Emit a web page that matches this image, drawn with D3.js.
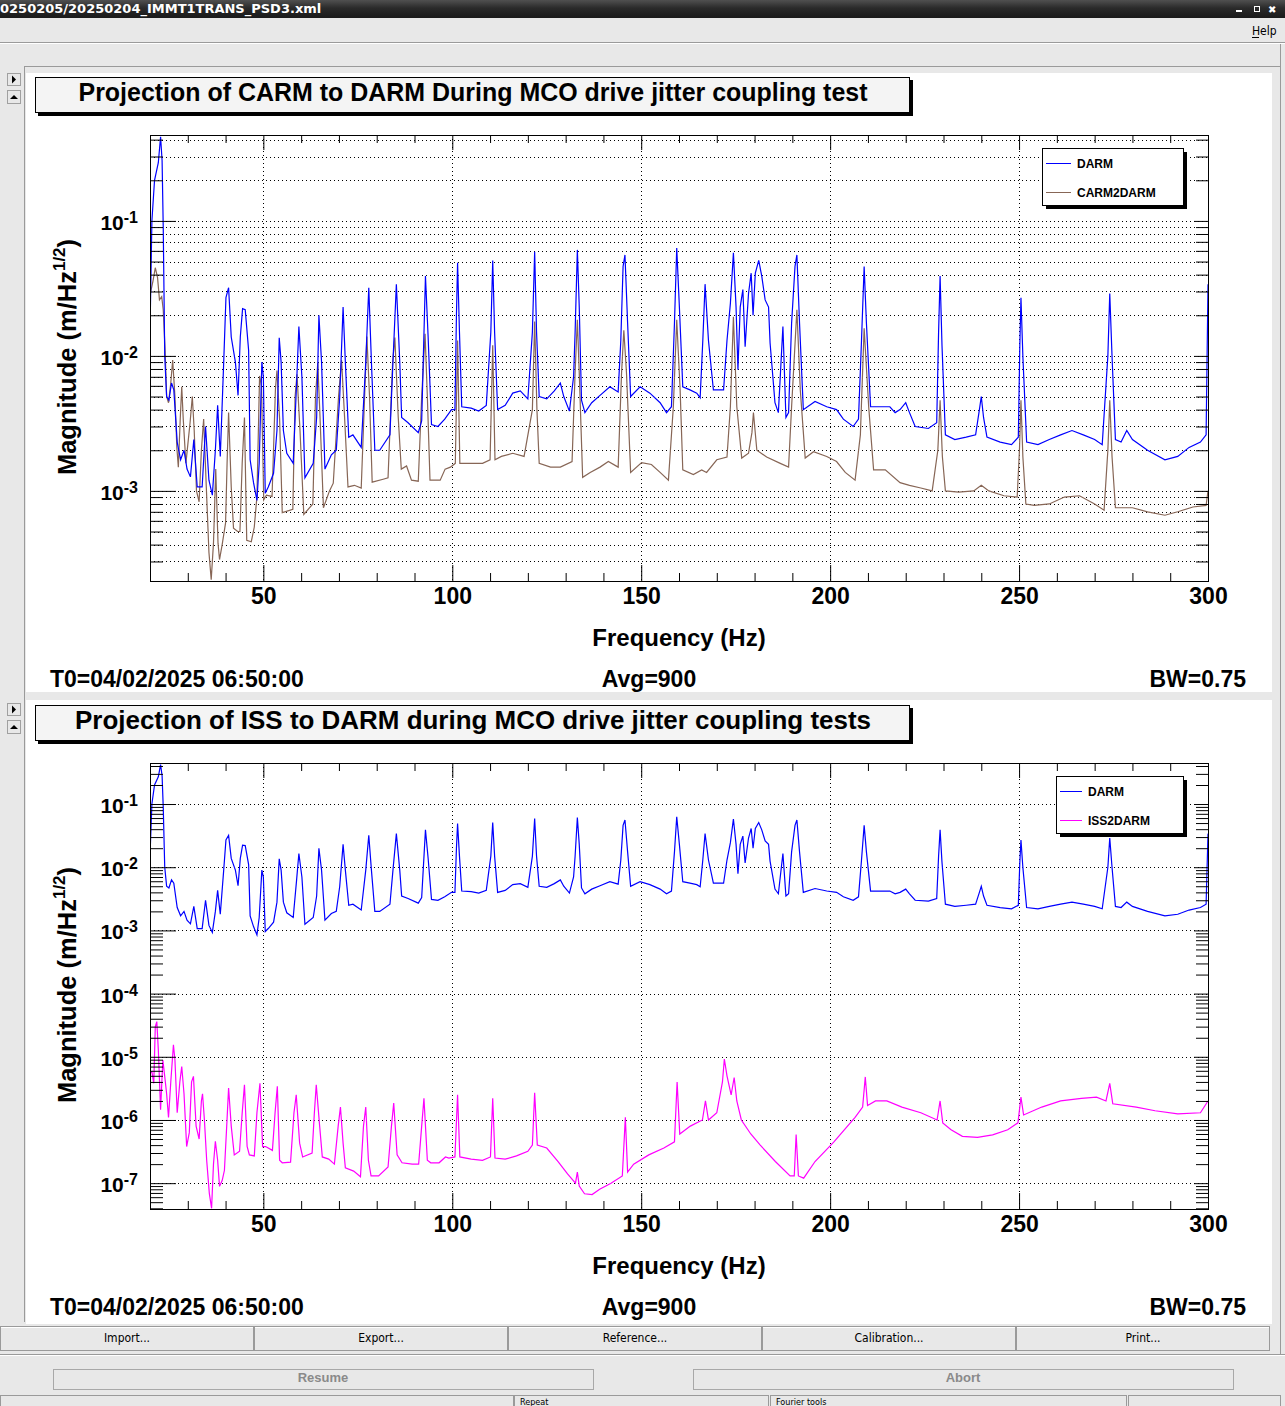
<!DOCTYPE html>
<html><head><meta charset="utf-8">
<script src="https://cdn.jsdelivr.net/npm/d3@7"></script>
<style>
body{margin:0;background:#e8e8e8;overflow:hidden}
svg{display:block}
</style></head><body>
<svg id="win" width="1285" height="1406"></svg>
<script>
// ---- data (frequency Hz, magnitude m/Hz^1/2) ----
const DARM = [[20.1,0.022],[20.5,0.1],[21.2,0.2],[22.2,0.27],[22.8,0.42],[23.2,0.28],[23.5,0.091],[23.9,0.01],[24.4,0.005],[25,0.0047],[25.7,0.0063],[26.3,0.0056],[27.2,0.0023],[28.1,0.0017],[29,0.002],[29.8,0.00145],[30.7,0.00127],[31.6,0.0024],[32.5,0.00107],[33.8,0.00107],[34.7,0.003],[35.6,0.0012],[36.5,0.00093],[37.3,0.002],[37.9,0.0043],[38.6,0.0018],[39.5,0.0089],[40.1,0.027],[40.8,0.032],[41.5,0.0138],[42.6,0.009],[43.3,0.0051],[43.9,0.0138],[44.5,0.0224],[45.2,0.022],[46.1,0.011],[46.5,0.0017],[47.4,0.00115],[48.3,0.00085],[48.9,0.0016],[49.6,0.009],[50,0.007],[50.5,0.00096],[51.3,0.00107],[52.7,0.00135],[53.6,0.0028],[54.2,0.0136],[54.7,0.009],[55.3,0.0028],[56.2,0.0019],[57.9,0.0016],[58.8,0.0063],[59.4,0.0165],[60.2,0.007],[61,0.00125],[63.2,0.0016],[64.1,0.0035],[64.7,0.02],[65.4,0.009],[66.3,0.00145],[68,0.00185],[69.3,0.002],[70.2,0.0049],[71.1,0.023],[71.7,0.009],[72.6,0.0025],[73.7,0.0026],[75.9,0.0021],[77.1,0.009],[77.9,0.032],[78.6,0.009],[79.5,0.002],[80.8,0.002],[83.5,0.0026],[84.3,0.009],[85.2,0.034],[86.1,0.009],[86.6,0.0035],[88.3,0.0032],[91,0.0027],[91.9,0.0033],[92.9,0.039],[93.6,0.014],[94.5,0.0031],[96.2,0.003],[98,0.0034],[99.8,0.004],
  [100.7,0.004],[101.1,0.02],[101.4,0.049],[101.9,0.015],[102.5,0.0042],[105,0.0041],[107,0.0039],[109,0.0043],[110.2,0.015],[110.7,0.051],[111.2,0.015],[112,0.004],[114,0.0043],[116,0.0053],[118,0.0055],[120,0.0048],[121.2,0.015],[121.8,0.059],[122.3,0.015],[123,0.005],[125,0.0048],[127,0.0055],
  [128.6,0.0063],[129.5,0.005],[131,0.0039],[132.1,0.007],[132.5,0.0148],[133.1,0.061],[133.6,0.023],[134.2,0.0047],[135.1,0.0038],[136.9,0.0045],[139.1,0.0051],[141.7,0.0059],[143.9,0.0054],[144.6,0.013],[145.2,0.046],[145.7,0.056],[146.4,0.0175],[147.2,0.005],[149.7,0.0059],[152.3,0.0053],[155,0.0045],[156.7,0.0038],[158,0.0042],[158.8,0.0175],[159.4,0.063],[160.1,0.023],[161,0.0059],[162.9,0.0056],[164.7,0.0053],[165.6,0.0049],[166.3,0.013],[166.9,0.034],[167.8,0.013],[169.1,0.0056],[171.8,0.0056],[172.7,0.013],[173.6,0.0245],[174.4,0.058],[175.1,0.023],[175.6,0.0079],[176.2,0.023],[176.9,0.031],[177.5,0.0117],[178.4,0.029],[179.1,0.041],[179.6,0.02],[180.2,0.041],[181.1,0.051],[181.9,0.039],[182.8,0.026],[183.7,0.023],[184.1,0.0125],[185.4,0.0045],[186.3,0.0038],[187.5,0.0165],[188.3,0.0035],[189,0.0038],[189.8,0.0175],[190.7,0.046],[191.2,0.056],[191.9,0.0175],[192.9,0.004],[196,0.0046],[199.1,0.0042],[201.7,0.004],[203.5,0.0034],[206.1,0.003],[207.5,0.0034],[208.3,0.013],[209,0.046],[209.6,0.0175],[210.7,0.0042],[213.2,0.0042],[215.8,0.0042],[217.2,0.0038],[218.5,0.004],
  [220,0.0045],[221,0.0038],[222.5,0.003],[226,0.0029],[228.2,0.0032],[228.7,0.015],[229.1,0.039],[229.6,0.012],[230.5,0.0026],[233,0.0024],[236,0.0025],[238.5,0.0026],[239.5,0.004],[240,0.005],[240.6,0.0035],[241.5,0.0025],[245,0.0023],[248,0.0022],[249.8,0.0025],[250.2,0.012],[250.5,0.027],[251,0.01],[252,0.0023],[255,0.0022],[258,0.0024],[261,0.0026],[264,0.0028],[267,0.0026],[270,0.0024],[272,0.0022],[273.5,0.01],[274,0.029],[274.6,0.01],[275.5,0.0024],[277,0.0023],[278.5,0.0028],[280,0.0024],[284,0.002],[288.6,0.0017],[292,0.0018],[295,0.0021],[298,0.0023],[299.5,0.0026],[300,0.034]];

const CARM2DARM = [[20.1,0.029],[20.8,0.036],[21.4,0.045],[22,0.038],[22.5,0.026],[23.1,0.0275],[23.5,0.022],[24,0.011],[24.4,0.005],[24.9,0.0045],[25.5,0.0063],[26,0.0093],[26.6,0.005],[27.1,0.0021],[27.5,0.0015],[28,0.0034],[28.4,0.0059],[28.8,0.0034],[29.5,0.0016],[30.6,0.0032],[31.2,0.005],[31.7,0.0028],[32.3,0.001],[33,0.00083],[33.6,0.002],[34.2,0.0034],[34.9,0.00107],[35.6,0.00035],[36.2,0.00022],[36.8,0.00041],[37.4,0.00145],[38,0.00041],[38.4,0.00031],[39.1,0.0004],[40,0.00058],[40.4,0.0016],[40.8,0.0038],[41.5,0.00107],[42.1,0.00053],[43.2,0.0005],[43.8,0.0005],[44.4,0.0016],[45,0.0035],[45.6,0.00043],[46.8,0.00042],[47.6,0.00054],[48.3,0.00091],[49,0.0071],[49.5,0.006],[50.1,0.00086],[50.8,0.00093],[52.3,0.00091],[53.2,0.0057],[53.6,0.0078],[54.3,0.0034],[55,0.00069],[57.8,0.00073],[58.4,0.005],[58.9,0.0073],[59.7,0.0028],[60.7,0.00067],[63.1,0.0008],[63.8,0.005],[64.4,0.0089],[65,0.0035],[65.9,0.00075],[67.5,0.001],[68.5,0.00114],[69.9,0.005],[70.7,0.0093],[71.5,0.0035],[72.4,0.00107],[74.1,0.0011],[75.9,0.00105],[76.8,0.005],[77.4,0.0139],[78.1,0.005],[78.8,0.00116],[81.7,0.00122],[83,0.00125],[84.2,0.0089],[84.8,0.0137],[85.7,0.0035],[86.5,0.00145],[87.9,0.00153],[89.2,0.0012],[91,0.00118],[91.9,0.005],[92.8,0.0146],[93.4,0.005],[94.1,0.0012],[96.8,0.0012],[98.1,0.00145],[99.5,0.0015],
  [100.8,0.0016],[101.4,0.013],[102,0.0016],[105,0.0016],[108,0.0016],[110,0.0017],[110.7,0.012],[111.3,0.0017],[113,0.0018],[116,0.0019],[119,0.0018],[121.2,0.004],[121.8,0.018],[122.4,0.004],[123,0.0016],[126,0.0015],
  [128.6,0.0015],[131.7,0.00165],[132.5,0.0075],[133.1,0.0185],[133.6,0.0075],[134.5,0.00126],[136.5,0.00137],[139.1,0.0015],[141.3,0.00165],[143.9,0.0015],[144.8,0.0075],[145.4,0.0155],[146.1,0.0075],[147.2,0.00137],[150.1,0.00162],[152.7,0.00157],[155,0.00137],[157.2,0.0012],[158.5,0.0042],[159.4,0.0185],[160.3,0.0056],[161,0.00143],[163.8,0.00132],[166,0.00143],[167.3,0.00137],[170,0.0017],[172.7,0.00178],[173.6,0.0042],[174.4,0.0195],[175.3,0.0042],[176.6,0.00175],[178.4,0.0019],[179.3,0.0027],[179.7,0.0038],[180.6,0.002],[183.2,0.00178],[186.8,0.0016],[189,0.0015],[189.8,0.0042],[191.2,0.022],[192.1,0.0056],[193.4,0.00175],[195.6,0.00195],[199.1,0.0018],[201.7,0.00165],[204,0.00137],[206.6,0.0012],[208,0.0026],[209,0.016],[210.2,0.0042],[211.5,0.00143],[214.6,0.00143],[218.5,0.00115],
  [221,0.0011],[224,0.00105],[227,0.001],[228.5,0.002],[229.1,0.0047],[229.7,0.0018],[230.5,0.001],[234,0.00098],[238,0.001],[240,0.0011],[242,0.001],[246,0.00092],[249.5,0.0009],[250.1,0.002],[250.5,0.0047],[251,0.0018],[251.8,0.0008],[254,0.00078],[258,0.0008],[262,0.0009],[266,0.00092],[270,0.0008],[272.5,0.00072],[273.5,0.002],[274,0.0047],[274.6,0.0018],[275.5,0.00075],[280,0.00075],[284,0.0007],[288.6,0.00066],[292,0.0007],[296,0.00076],[299.5,0.00078],[300,0.001]];

const ISS2DARM = [[20.1,5.5e-6],[20.5,5.8e-6],[21,3.8e-6],[21.4,3e-5],[21.8,3.6e-5],[22.2,1.3e-5],[22.8,1.45e-6],[23.4,8.9e-6],[23.8,5.5e-6],[24.4,2.6e-6],[24.9,1.1e-6],[25.5,4e-6],[26.2,1.55e-5],[26.6,8.9e-6],[27.2,1.3e-6],[27.9,4e-6],[28.4,7e-6],[29,2.6e-6],[29.7,3.8e-7],[30.4,6.3e-7],[31,4e-6],[31.5,4.9e-6],[32.2,8e-7],[33,5e-7],[33.6,2e-6],[33.9,2.6e-6],[34.4,1e-6],[35,2.3e-7],[35.7,6.9e-8],[36.3,4e-8],[36.8,2e-7],[37.3,4.6e-7],[37.9,2.3e-7],[38.4,8.9e-8],[39.1,1.1e-7],[39.7,1.6e-7],[40.3,8e-7],[40.8,3.2e-6],[41.5,8e-7],[42.3,2.8e-7],[43.7,3.2e-7],[44.4,1.3e-6],[45,3.6e-6],[45.7,3.8e-7],[46.3,2.8e-7],[47.6,2.7e-7],[48.3,1.3e-6],[49.1,3.8e-6],[49.8,3.8e-7],[50.6,3.8e-7],[52.4,3.3e-7],[53.1,1.3e-6],[53.7,3.4e-6],[54.3,2.3e-7],[55,2.1e-7],[57.2,2.15e-7],[58.1,1.3e-6],[58.7,2.5e-6],[59.6,4.3e-7],[60.4,2.6e-7],[62.9,3e-7],[63.5,1.3e-6],[64,3.6e-6],[64.9,8e-7],[65.6,2.6e-7],[67.3,2.4e-7],[68.8,2e-7],[69.8,8e-7],[70.4,1.6e-6],[71.1,4.3e-7],[71.7,1.75e-7],[73.9,1.55e-7],[75.7,1.26e-7],[76.5,8e-7],[77.1,1.6e-6],[77.8,2.3e-7],[78.5,1.3e-7],[80.5,1.3e-7],[83,1.8e-7],[83.9,8e-7],[84.5,1.85e-6],[85.4,2.8e-7],[86.7,2.1e-7],[89.4,2e-7],[91.1,2e-7],[91.9,8e-7],[92.5,2.2e-6],[93.4,2.3e-7],[94.3,2.1e-7],[96.5,2.1e-7],[98.2,2.6e-7],[99.1,2.5e-7],
  [100.7,2.6e-7],[101.4,2.5e-6],[102,2.6e-7],[105,2.4e-7],[108,2.3e-7],[110.1,2.6e-7],[110.7,2.2e-6],[111.3,2.5e-7],[114,2.4e-7],[117,2.7e-7],[120,3.2e-7],[121.2,4e-7],[121.8,2.7e-6],[122.5,4e-7],[125,3.6e-7],[128,2.2e-7],[130.5,1.4e-7],[132.6,1e-7],[133.1,1.5e-7],[133.6,9e-8],[135,6.8e-8],[137,6.6e-8],[139,8e-8],[142,1e-7],[145,1.3e-7],[145.8,1.1e-6],[146.4,1.5e-7],[148,2e-7],[152,2.8e-7],[156,3.6e-7],[158.8,4.5e-7],[159.5,4e-6],[160.2,6e-7],[163,8e-7],[166.2,1e-6],[167,2e-6],[167.8,1e-6],[170,1.3e-6],[171.5,4e-6],[172,9.2e-6],[172.7,5e-6],[173.8,2.5e-6],[174.6,4.7e-6],[175.3,2e-6],[176.5,1e-6],[179,6e-7],[181.5,4e-7],[185.5,2.2e-7],[189.4,1.3e-7],[190.5,1.3e-7],[191,5.9e-7],[191.6,1.3e-7],[193,1.2e-7],[196,2.2e-7],[201,4.5e-7],[206.6,1.1e-6],[208.6,1.6e-6],[209.3,4.8e-6],[209.9,1.7e-6],[212,2e-6],[215,2e-6],[219,1.6e-6],[224,1.3e-6],[228.3,1e-6],[229.1,2e-6],[229.8,9e-7],[232,7e-7],[235,5.5e-7],[239,5.3e-7],[243,5.8e-7],[247,7e-7],[249.7,9e-7],[250.5,2.3e-6],[251.2,1.2e-6],[256,1.6e-6],[261,2e-6],[266.5,2.2e-6],[270.5,2.3e-6],[273,2e-6],[274,3.8e-6],[274.8,1.8e-6],[281,1.6e-6],[286,1.4e-6],[292,1.25e-6],[298,1.3e-6],[300,2e-6]];

const xMajorTicks = [50, 100, 150, 200, 250, 300];
const xMinorTicks = [30, 40, 60, 70, 80, 90, 110, 120, 130, 140, 160, 170, 180, 190, 210, 220, 230, 240, 260, 270, 280, 290];
const titles = ["Projection of CARM to DARM During MCO drive jitter coupling test",
                "Projection of ISS to DARM during MCO drive jitter coupling tests"];
const titleWidths = [789, 796];
const footer = ["T0=04/02/2025 06:50:00", "Avg=900", "BW=0.75"];
const buttons = ["Import...", "Export...", "Reference...", "Calibration...", "Print..."];

const FONT = "'Liberation Sans', Arial, Helvetica, sans-serif";
const svg = d3.select("#win");

// ---- window chrome ----
const grad = svg.append("defs").append("linearGradient").attr("id", "tb").attr("x1", 0).attr("x2", 0).attr("y1", 0).attr("y2", 1);
grad.append("stop").attr("offset", "0").attr("stop-color", "#505050");
grad.append("stop").attr("offset", "0.45").attr("stop-color", "#2a2a2a");
grad.append("stop").attr("offset", "1").attr("stop-color", "#1a1a1a");
svg.append("rect").attr("width", 1285).attr("height", 1406).attr("fill", "#e8e8e8");
svg.append("rect").attr("width", 1285).attr("height", 18).attr("fill", "url(#tb)");
svg.append("text").attr("x", 0).attr("y", 13).attr("fill", "#fff")
  .style("font", "bold 13px 'DejaVu Sans', sans-serif").text("0250205/20250204_IMMT1TRANS_PSD3.xml");
// window buttons
svg.append("rect").attr("x", 1236).attr("y", 10).attr("width", 6).attr("height", 2).attr("fill", "#fff");
svg.append("rect").attr("x", 1254.5).attr("y", 6.5).attr("width", 5).attr("height", 5).attr("fill", "none").attr("stroke", "#fff");
svg.append("text").attr("x", 1268).attr("y", 13).attr("fill", "#fff").style("font", "bold 10px 'DejaVu Sans'").text("✖");

svg.append("text").attr("x", 1252).attr("y", 35).style("font", "12px 'Liberation Sans Narrow','DejaVu Sans Condensed',sans-serif").text("Help");
svg.append("line").attr("x1", 1252).attr("x2", 1259).attr("y1", 37.5).attr("y2", 37.5).attr("stroke", "#000");
svg.append("line").attr("x1", 0).attr("x2", 1285).attr("y1", 42.5).attr("y2", 42.5).attr("stroke", "#9a9a9a");
svg.append("line").attr("x1", 0).attr("x2", 1285).attr("y1", 43.5).attr("y2", 43.5).attr("stroke", "#fff");
svg.append("line").attr("x1", 24).attr("x2", 1280).attr("y1", 66.5).attr("y2", 66.5).attr("stroke", "#9a9a9a");
svg.append("line").attr("x1", 24.5).attr("x2", 24.5).attr("y1", 66).attr("y2", 1322).attr("stroke", "#9a9a9a");
svg.append("line").attr("x1", 1280.5).attr("x2", 1280.5).attr("y1", 44).attr("y2", 1356).attr("stroke", "#9a9a9a");

function smallButton(x, y, w, h, dir) {
  svg.append("rect").attr("x", x + 0.5).attr("y", y + 0.5).attr("width", w).attr("height", h)
    .attr("fill", "#e8e8e8").attr("stroke", "#a0a0a0");
  const cx = x + w / 2 + 0.5, cy = y + h / 2 + 0.5;
  const pts = dir === "r" ? [[cx - 2, cy - 4], [cx + 2, cy], [cx - 2, cy + 4]] : [[cx - 4, cy + 2], [cx, cy - 2], [cx + 4, cy + 2]];
  svg.append("path").attr("d", d3.line()(pts) + "Z").attr("fill", "#000");
}

// ---- one ROOT-style panel ----
function drawPanel(p) {
  const dy = p.dy;
  // canvas
  svg.append("rect").attr("x", 26).attr("y", 73 + dy - (dy ? 1 : 0)).attr("width", 1246).attr("height", dy ? 624 : 619).attr("fill", "#fff");
  smallButton(7, 73 + dy + (dy ? 2 : 0), 13, 12, "r");
  smallButton(7, 90 + dy + (dy ? 2 : 0), 13, 13, "u");

  const left = 150, right = 1208, top = 135 + dy, bottom = 581 + dy;
  const x = d3.scaleLinear().domain([20, 300]).range([left, right]);
  const y = d3.scaleLog().domain(p.yDomain).range([bottom, top]);
  const g = svg.append("g");

  const lo = Math.ceil(Math.log10(p.yDomain[0])), hi = Math.floor(Math.log10(p.yDomain[1]));
  const yMajor = d3.range(lo, hi + 1).map(e => Math.pow(10, e));
  const yMinor = [];
  for (let e = lo - 1; e <= hi; e++) for (let k = 2; k <= 9; k++) {
    const v = k * Math.pow(10, e);
    if (v > p.yDomain[0] && v < p.yDomain[1]) yMinor.push(v);
  }

  // grid
  const dots = "1,3";
  const gridY = p.minorGrid ? yMajor.concat(yMinor) : yMajor;
  g.selectAll(null).data(gridY).enter().append("line")
    .attr("x1", left).attr("x2", right).attr("y1", d => Math.round(y(d)) + 0.5).attr("y2", d => Math.round(y(d)) + 0.5)
    .attr("stroke", "#000").attr("stroke-dasharray", dots);
  g.selectAll(null).data(xMajorTicks.slice(0, -1)).enter().append("line")
    .attr("x1", d => Math.round(x(d)) + 0.5).attr("x2", d => Math.round(x(d)) + 0.5).attr("y1", top).attr("y2", bottom)
    .attr("stroke", "#000").attr("stroke-dasharray", dots);

  // traces
  const clipId = "clip" + p.idx;
  svg.append("clipPath").attr("id", clipId).append("rect").attr("x", left).attr("y", top).attr("width", right - left).attr("height", bottom - top);
  const line = d3.line().x(d => x(d[0])).y(d => y(d[1]));
  const traces = g.append("g").attr("clip-path", `url(#${clipId})`);
  p.series.slice().reverse().forEach(s => {
    traces.append("path").attr("d", line(s.data)).attr("fill", "none").attr("stroke", s.color).attr("stroke-width", 1.2);
  });

  // axes (ticks point inward, ROOT style)
  const noLab = () => "";
  const ax = (gen, tx, ty) => {
    const a = g.append("g").attr("transform", `translate(${tx},${ty})`).call(gen);
    a.select(".domain").remove();
    a.selectAll("line").attr("stroke", "#000");
    return a;
  };
  const xb = ax(d3.axisBottom(x).tickValues(xMajorTicks).tickSize(-16).tickPadding(7).tickFormat(d3.format("d")), 0, bottom);
  xb.selectAll("text").attr("font-family", FONT).attr("font-weight", "bold").attr("font-size", 23).attr("fill", "#000");
  ax(d3.axisBottom(x).tickValues(xMinorTicks).tickSize(-8).tickFormat(noLab), 0, bottom);
  ax(d3.axisTop(x).tickValues(xMajorTicks).tickSize(-15).tickFormat(noLab), 0, top);
  ax(d3.axisTop(x).tickValues(xMinorTicks).tickSize(-8).tickFormat(noLab), 0, top);
  ax(d3.axisLeft(y).tickValues(yMajor).tickSize(-26).tickFormat(noLab), left, 0);
  ax(d3.axisLeft(y).tickValues(yMinor).tickSize(-13).tickFormat(noLab), left, 0);
  ax(d3.axisRight(y).tickValues(yMajor).tickSize(-14).tickFormat(noLab), right, 0);
  ax(d3.axisRight(y).tickValues(yMinor).tickSize(-12).tickFormat(noLab), right, 0);

  // y tick labels 10^n
  yMajor.forEach(v => {
    const t = g.append("text").attr("x", 138).attr("y", y(v) + 9).attr("text-anchor", "end")
      .attr("font-family", FONT).attr("font-weight", "bold").attr("font-size", 21);
    t.append("tspan").text("10");
    t.append("tspan").attr("dy", -7).attr("font-size", 16).text("-" + Math.round(-Math.log10(v)));
  });

  g.append("rect").attr("x", left + 0.5).attr("y", top + 0.5).attr("width", right - left).attr("height", bottom - top)
    .attr("fill", "none").attr("stroke", "#000");

  // axis titles
  g.append("text").attr("x", 679).attr("y", 646 + dy).attr("text-anchor", "middle")
    .attr("font-family", FONT).attr("font-weight", "bold").attr("font-size", 24).text("Frequency (Hz)");
  const yt = g.append("text").attr("transform", `translate(76,${357 + dy}) rotate(-90)`).attr("text-anchor", "middle")
    .attr("font-family", FONT).attr("font-weight", "bold").attr("font-size", 25.5);
  yt.append("tspan").text("Magnitude (m/Hz");
  yt.append("tspan").attr("dy", -11).attr("font-size", 17).text("1/2");
  yt.append("tspan").attr("dy", 11).text(")");

  // title pave
  g.append("rect").attr("x", 38).attr("y", 80 + dy).attr("width", 875).attr("height", 36).attr("fill", "#000");
  g.append("rect").attr("x", 35.5).attr("y", 77.5 + dy).attr("width", 874).attr("height", 35).attr("fill", "#f4f4f4").attr("stroke", "#000");
  g.append("text").attr("x", 473).attr("y", 101 + dy).attr("text-anchor", "middle")
    .attr("font-family", FONT).attr("font-weight", "bold").attr("font-size", 25)
    .attr("textLength", titleWidths[p.idx]).attr("lengthAdjust", "spacingAndGlyphs").text(p.title);

  // legend
  const L = p.legend;
  g.append("rect").attr("x", L.x + 4).attr("y", L.y + 4).attr("width", L.w).attr("height", L.h).attr("fill", "#000");
  g.append("rect").attr("x", L.x + 0.5).attr("y", L.y + 0.5).attr("width", L.w).attr("height", L.h).attr("fill", "#fff").attr("stroke", "#000");
  p.series.forEach((s, i) => {
    const ly = L.y + 15 + i * 29;
    g.append("line").attr("x1", L.x + 4).attr("x2", L.x + 4 + L.lineW).attr("y1", ly + 0.5).attr("y2", ly + 0.5).attr("stroke", s.color);
    g.append("text").attr("x", L.x + L.lineW + 10).attr("y", ly + 4.5)
      .attr("font-family", FONT).attr("font-weight", "bold").attr("font-size", 12).text(s.name);
  });

  // footer
  const fy = 687 + dy;
  [[50, "start", footer[0]], [649, "middle", footer[1]], [1246, "end", footer[2]]].forEach(f => {
    g.append("text").attr("x", f[0]).attr("y", fy).attr("text-anchor", f[1])
      .attr("font-family", FONT).attr("font-weight", "bold").attr("font-size", 23).text(f[2]);
  });
}

drawPanel({idx: 0, dy: 0, yDomain: [2.15e-4, 0.433], minorGrid: true, title: titles[0],
  legend: {x: 1042, y: 148, w: 141, h: 57, lineW: 25},
  series: [{name: "DARM", data: DARM, color: "#0000ff"}, {name: "CARM2DARM", data: CARM2DARM, color: "#876656"}]});
drawPanel({idx: 1, dy: 628, yDomain: [3.9e-8, 0.446], minorGrid: false, title: titles[1],
  legend: {x: 1056, y: 776, w: 127, h: 57, lineW: 22},
  series: [{name: "DARM", data: DARM, color: "#0000ff"}, {name: "ISS2DARM", data: ISS2DARM, color: "#ff00ff"}]});

// ---- bottom control area ----
const BF = "'Liberation Sans Narrow','DejaVu Sans Condensed',sans-serif";
buttons.forEach((b, i) => {
  const bx = i * 254;
  svg.append("rect").attr("x", bx + 0.5).attr("y", 1326.5).attr("width", 253).attr("height", 24)
    .attr("fill", "#e8e8e8").attr("stroke", "#9a9a9a");
  svg.append("line").attr("x1", bx + 1).attr("x2", bx + 253).attr("y1", 1327.5).attr("y2", 1327.5).attr("stroke", "#fff");
  svg.append("text").attr("x", bx + 127).attr("y", 1342).attr("text-anchor", "middle").style("font", `12px ${BF}`).text(b);
});
svg.append("line").attr("x1", 0).attr("x2", 1285).attr("y1", 1354.5).attr("y2", 1354.5).attr("stroke", "#9a9a9a");
svg.append("line").attr("x1", 0).attr("x2", 1285).attr("y1", 1355.5).attr("y2", 1355.5).attr("stroke", "#fff");
[[53, "Resume"], [693, "Abort"]].forEach(r => {
  svg.append("rect").attr("x", r[0] + 0.5).attr("y", 1369.5).attr("width", 540).attr("height", 20).attr("fill", "#e8e8e8").attr("stroke", "#a8a8a8");
  svg.append("text").attr("x", r[0] + 270).attr("y", 1382).attr("text-anchor", "middle").attr("fill", "#8a8a8a")
    .style("font", `bold 13px ${FONT}`).text(r[1]);
});
[[0, 513, ""], [514, 254, "Repeat"], [770, 356, "Fourier tools"], [1128, 152, ""]].forEach(t => {
  svg.append("rect").attr("x", t[0] + 0.5).attr("y", 1395.5).attr("width", t[1]).attr("height", 14).attr("fill", "#e8e8e8").attr("stroke", "#9a9a9a");
  if (t[2]) svg.append("text").attr("x", t[0] + 6).attr("y", 1404.5).style("font", `9px ${BF}`).text(t[2]);
});
</script>
</body></html>
